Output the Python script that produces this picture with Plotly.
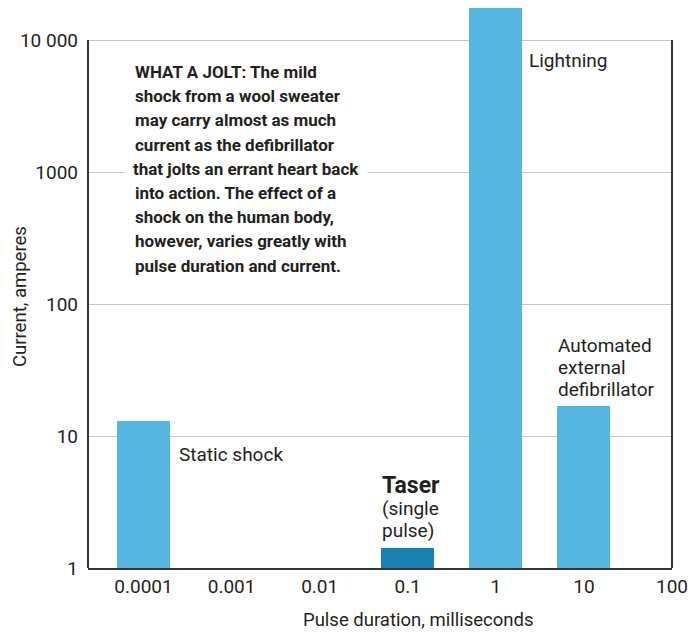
import numpy as np
import plotly.graph_objects as go

# ---- data ----
labels = ["Static shock", "Taser", "Lightning", "Automated external defibrillator"]
durations_ms = [0.0001, 0.1, 1, 10]
currents_a = [13, 1.42, 17500, 17]
bar_colors = ["#56B6E0", "#1B80B4", "#56B6E0", "#56B6E0"]

x_tick_vals = [0.0001, 0.001, 0.01, 0.1, 1, 10, 100]
x_tick_text = ["0.0001", "0.001", "0.01", "0.1", "1", "10", "100"]
y_tick_vals = [1, 10, 100, 1000, 10000]
y_tick_text = ["1", "10", "100", "1000", "10 000"]

note_lines = [
    "<b>WHAT A JOLT: The mild</b>",
    "<b>shock from a wool sweater</b>",
    "<b>may carry almost as much</b>",
    "<b>current as the defibrillator</b>",
    "<b>that jolts an errant heart back</b>",
    "<b>into action. The effect of a</b>",
    "<b>shock on the human body,</b>",
    "<b>however, varies greatly with</b>",
    "<b>pulse duration and current.</b>",
]
aed_lines = ["Automated", "external", "defibrillator"]
taser_sub_lines = ["(single", "pulse)"]

FONT = "Roboto, Open Sans, sans-serif"
TXT = "#231f20"

W, H = 699, 635
ML, MR, MT, MB = 88, 27, 7, 67
Y_TOP = 4.25  # log10 of top of range
X_RANGE = [-4.63, 2.0]
BAR_W = 0.6
BASE = 1.0

xpos = np.log10(durations_ms)
bar_len = [c - BASE for c in currents_a]  # bars drawn from base=1 up to the value

fig = go.Figure()
fig.add_trace(go.Bar(
    x=xpos, y=bar_len, base=[BASE] * len(currents_a), width=BAR_W,
    marker=dict(color=bar_colors, line=dict(width=0)),
    hoverinfo="skip", showlegend=False, cliponaxis=False,
))

plot_h = H - MT - MB
px_per_dec = plot_h / Y_TOP


def py_to_paper(py):
    return (H - MB - py) / plot_h


def px_to_paper(px):
    return (px - ML) / (W - ML - MR)


def py_to_log(py):
    return (H - MB - py) / px_per_dec


annotations = []
# note block (the line crossing the 1000 gridline gets a white background, drawn first)
line_y_px = [72, 96, 120, 145, 169, 193, 217, 241, 266]
PAD = 8
order = [4] + [i for i in range(9) if i != 4]
for i in order:
    a = dict(text=note_lines[i], xref="paper", yref="paper",
             x=px_to_paper(133), y=py_to_paper(line_y_px[i]),
             xanchor="left", yanchor="middle", showarrow=False,
             font=dict(family=FONT, size=17, color=TXT))
    if i == 4:
        a.update(bgcolor="white", borderpad=PAD, x=px_to_paper(133 - PAD - 1))
    annotations.append(a)

LBL = 19
# bar labels (data coords; annotations on a log axis take log10 values)
annotations.append(dict(text="Static shock", x=xpos[0] + BAR_W / 2 + 0.08, y=py_to_log(454),
                        xanchor="left", yanchor="middle", showarrow=False,
                        font=dict(family=FONT, size=LBL, color=TXT)))
annotations.append(dict(text="<b>Taser</b>", x=xpos[1] - BAR_W / 2 - 0.01, y=py_to_log(485),
                        xanchor="left", yanchor="middle", showarrow=False,
                        font=dict(family=FONT, size=23, color=TXT)))
for t, py in zip(taser_sub_lines, [508, 530]):
    annotations.append(dict(text=t, x=xpos[1] - BAR_W / 2 - 0.01, y=py_to_log(py),
                            xanchor="left", yanchor="middle", showarrow=False,
                            font=dict(family=FONT, size=LBL, color=TXT)))
annotations.append(dict(text="Lightning", x=xpos[2] + BAR_W / 2 + 0.05, y=py_to_log(60),
                        xanchor="left", yanchor="middle", showarrow=False,
                        font=dict(family=FONT, size=LBL, color=TXT)))
for t, py in zip(aed_lines, [345, 367, 389]):
    annotations.append(dict(text=t, x=xpos[3] - BAR_W / 2 - 0.02, y=py_to_log(py),
                            xanchor="left", yanchor="middle", showarrow=False,
                            font=dict(family=FONT, size=LBL, color=TXT)))
# axis titles
annotations.append(dict(text="Pulse duration, milliseconds", xref="paper", yref="paper",
                        x=px_to_paper(418), y=py_to_paper(620), xanchor="center",
                        yanchor="middle", showarrow=False,
                        font=dict(family=FONT, size=18.5, color=TXT)))
annotations.append(dict(text="Current, amperes", xref="paper", yref="paper",
                        x=px_to_paper(20), y=py_to_paper(297), xanchor="center",
                        yanchor="middle", textangle=-90, showarrow=False,
                        font=dict(family=FONT, size=18.5, color=TXT)))

top_frac = 4 / Y_TOP
shapes = [
    dict(type="line", xref="paper", yref="paper", x0=0, x1=0, y0=0, y1=top_frac,
         line=dict(color="#333333", width=2)),
    dict(type="line", xref="paper", yref="paper", x0=1, x1=1, y0=0, y1=top_frac,
         line=dict(color="#333333", width=2)),
]

fig.update_layout(
    width=W, height=H,
    margin=dict(l=ML, r=MR, t=MT, b=MB),
    paper_bgcolor="white", plot_bgcolor="white",
    font=dict(family=FONT, size=19, color=TXT),
    bargap=0,
    xaxis=dict(range=X_RANGE, tickmode="array",
               tickvals=np.log10(x_tick_vals), ticktext=x_tick_text,
               showgrid=False, zeroline=False, showline=True,
               linecolor="#333333", linewidth=2, ticks="",
               tickfont=dict(family=FONT, size=19, color=TXT), fixedrange=True),
    yaxis=dict(type="log", range=[0, Y_TOP], tickmode="array",
               tickvals=y_tick_vals, ticktext=y_tick_text,
               showgrid=True, gridcolor="#c4c4c4", gridwidth=1,
               zeroline=False, showline=False, ticks="",
               ticklabelstandoff=9,
               tickfont=dict(family=FONT, size=19, color=TXT), fixedrange=True),
    annotations=annotations,
    shapes=shapes,
)

fig.write_html("out.html", config={"displayModeBar": False},
               post_script="document.body.style.margin='0px';")
